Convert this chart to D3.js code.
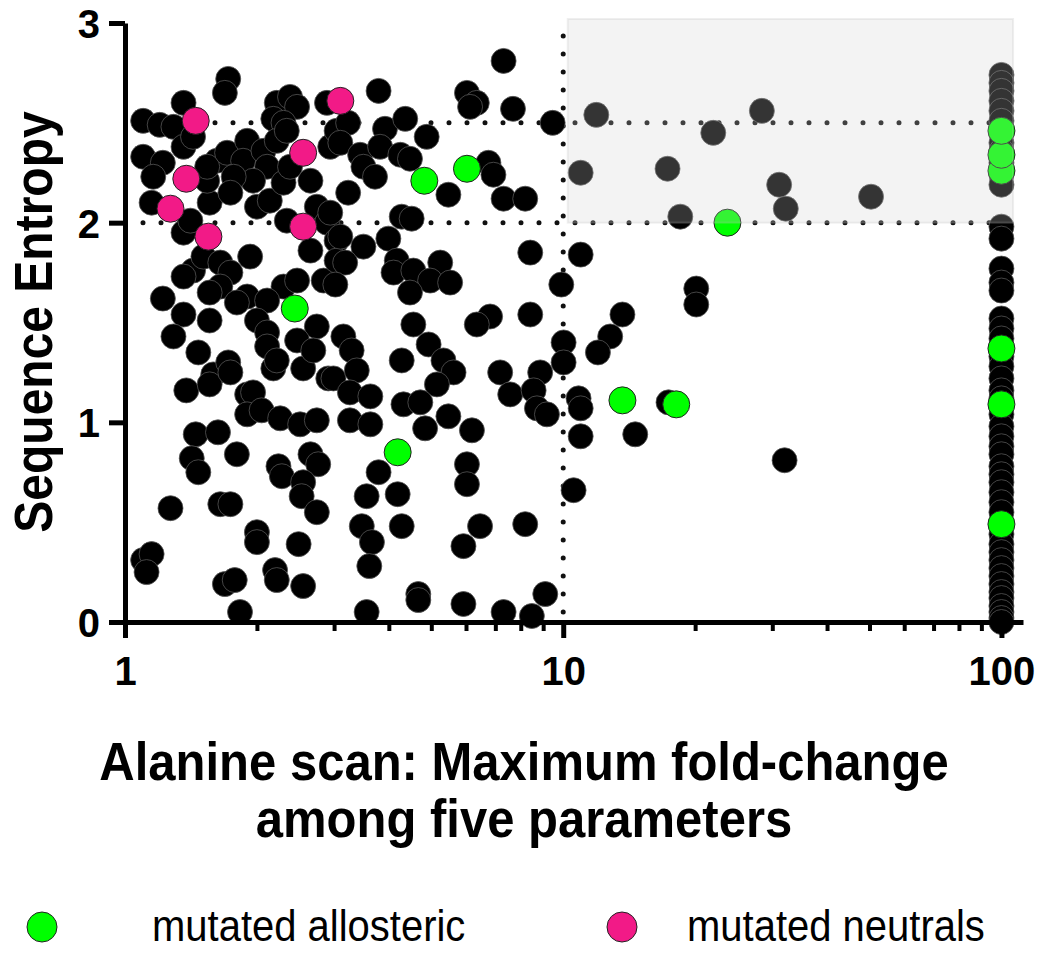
<!DOCTYPE html>
<html>
<head>
<meta charset="utf-8">
<script src="https://cdn.jsdelivr.net/npm/d3@7"></script>
<style>
  body { margin: 0; background: #fff; }
  svg text { font-family: "Liberation Sans", Arial, sans-serif; }
</style>
</head>
<body>
<svg id="chart" width="1050" height="957"></svg>
<script>
// [fold-change, sequence entropy] for the non-mutated residues
const otherPoints = [
  [1.10,2.51],[1.20,2.49],[1.29,2.48],[1.36,2.60],[1.72,2.72],[1.69,2.65],[2.22,2.60],[2.38,2.63],[2.47,2.58],
  [2.18,2.52],[2.30,2.50],[2.89,2.60],[1.10,2.33],[1.22,2.30],[1.16,2.23],[1.36,2.38],[1.43,2.43],[1.15,2.10],
  [1.36,1.95],[1.41,2.01],[1.56,2.10],[1.54,2.21],[1.62,2.31],[1.54,2.28],[1.71,2.35],[1.90,2.41],[1.86,2.31],
  [2.07,2.36],[2.11,2.28],[1.96,2.21],[1.77,2.23],[1.74,2.15],[2.00,2.08],[2.14,2.11],[2.30,2.20],[2.38,2.28],
  [2.22,2.41],[2.34,2.46],[2.65,2.21],[2.74,2.08],[2.94,2.38],[3.04,2.46],[2.34,2.01],[2.65,1.86],[2.89,2.00],
  [3.04,1.91],[1.43,1.76],[1.36,1.73],[1.51,1.83],[1.65,1.80],[1.74,1.75],[1.65,1.68],[1.56,1.65],[1.93,1.83],
  [1.90,1.63],[1.80,1.60],[1.22,1.62],[1.36,1.54],[1.56,1.51],[1.29,1.43],[2.30,1.68],[2.11,1.61],[2.00,1.51],
  [2.11,1.45],[2.47,1.71],[2.74,1.48],[2.84,1.71],[3.04,1.81],
  [7.31,2.81],[3.79,2.66],[6.03,2.65],[6.35,2.60],[6.13,2.58],[7.68,2.57],[9.46,2.50],[3.23,2.50],[3.10,2.40],
  [3.92,2.47],[4.36,2.52],[4.88,2.43],[3.44,2.34],[3.82,2.38],[3.50,2.28],[3.72,2.23],[4.25,2.34],[4.47,2.32],
  [6.75,2.30],[6.93,2.24],[5.47,2.14],[3.23,2.15],[7.31,2.12],[8.19,2.12],[4.28,2.03],[4.51,2.02],[2.94,2.05],
  [8.41,1.85],[3.10,1.93],[3.50,1.88],[3.18,1.80],[3.99,1.92],[4.17,1.81],[4.10,1.75],[4.55,1.76],[5.24,1.80],
  [4.97,1.71],[4.47,1.65],[5.52,1.70],[3.02,1.69],[9.90,1.69],[8.41,1.54],[6.81,1.53],[6.35,1.49],[4.55,1.49],
  [3.15,1.43],[10.02,1.40],
  [1.47,1.35],[1.38,1.16],[1.59,1.24],[1.56,1.19],[1.72,1.30],[1.74,1.25],[1.90,1.14],[1.96,1.15],[1.90,1.04],
  [2.05,1.06],[2.26,1.02],[2.51,0.99],[2.74,1.01],[2.11,1.38],[2.18,1.27],[2.22,1.31],[2.55,1.27],[2.47,1.41],
  [2.91,1.22],[2.69,1.36],[1.45,0.94],[1.63,0.95],[1.42,0.82],[1.47,0.75],[1.80,0.84],[2.24,0.78],[2.28,0.73],
  [2.65,0.84],[2.76,0.79],[2.55,0.70],[2.53,0.63],[2.74,0.55],[1.27,0.57],[1.65,0.59],[1.74,0.59],[2.00,0.45],
  [2.00,0.40],[2.49,0.39],[1.10,0.31],[1.15,0.34],[1.12,0.25],[1.69,0.19],[1.78,0.21],[2.20,0.26],[2.22,0.21],
  [2.55,0.18],[1.83,0.05],
  [3.29,1.36],[2.99,1.22],[3.38,1.26],[3.26,1.15],[3.63,1.13],[3.26,1.01],[3.63,0.99],[4.28,1.31],[4.93,1.39],
  [5.33,1.31],[5.62,1.25],[5.15,1.19],[4.32,1.09],[4.72,1.10],[5.47,1.03],[4.84,0.97],[6.19,0.96],[7.18,1.25],
  [7.57,1.14],[8.86,1.25],[8.56,1.16],[8.71,1.07],[9.18,1.04],[10.02,1.30],[3.79,0.75],[3.56,0.63],[4.19,0.64],
  [6.03,0.79],[6.03,0.69],[3.47,0.48],[3.66,0.40],[4.28,0.48],[6.46,0.48],[5.92,0.38],[8.19,0.49],[3.61,0.28],
  [4.67,0.14],[4.67,0.11],[5.92,0.09],[3.56,0.05],[7.31,0.05],[8.48,0.03],[9.10,0.14],
  [10.84,1.12],[10.96,1.07],[10.96,0.93],[10.56,0.66],[13.65,1.54],[12.80,1.43],[12.00,1.35],[14.60,0.94],
  [17.39,1.10],[32.0,0.81],[20.12,1.67],[20.12,1.59],[10.96,1.84],
  [11.9,2.54],[28.4,2.56],[22.0,2.45],[17.3,2.27],[31.1,2.19],[32.2,2.07],[50.4,2.13],[18.5,2.03],[10.96,2.25]
];

// entropy of residues whose fold-change was capped at 100
const cappedEntropy = [
  2.74,2.70,2.66,2.61,2.56,2.51,2.45,2.40,2.36,2.30,2.24,2.19,1.98,1.92,1.77,1.70,1.66,
  1.52,1.47,1.42,1.33,1.28,1.22,1.16,1.12,1.04,0.98,0.93,0.88,0.84,0.78,0.74,0.70,0.65,0.60,0.55,
  0.44,0.39,0.35,0.31,0.27,0.23,0.19,0.15,0.12,0.08,0.05,0.02,0.00
];
const cappedFold = 100;

const allosteric = [
  [2.44,1.57],[4.82,2.21],[6.03,2.27],[4.19,0.85],[13.65,1.11],[18.11,1.09],[23.7,2.00],
  [100,2.26],[100,2.34],[100,2.46],[100,1.37],[100,1.09],[100,0.49]
];
const neutrals = [
  [1.45,2.51],[3.10,2.61],[1.38,2.22],[1.27,2.07],[1.55,1.93],[2.55,2.35],[2.55,1.98]
];

const xTicks = [1, 10, 100];
const xMinor = [2,3,4,5,6,7,8,9,20,30,40,50,60,70,80,90];
const yTicks = [0, 1, 2, 3];
const hLines = [2, 2.5];
const vLine = 10;
const shade = { x0: 10.24, x1: 106.3, y0: 2, y1: 3.02 };

const xTitle = ["Alanine scan: Maximum fold-change", "among five parameters"];
const yTitle = "Sequence Entropy";
const legendItems = [
  { label: "mutated allosteric", color: "#00ff00" },
  { label: "mutated neutrals", color: "#f21a87" }
];

const svg = d3.select("#chart");

const x = d3.scaleLog().domain([1, 112]).range([125, 1023]);
const y = d3.scaleLinear().domain([0, 3]).range([622, 23]);

// the original figure's lettering is a bit taller than plain Arial
const stretch = 1.1;

// dotted reference lines
const ref = svg.append("g")
  .attr("stroke", "#111")
  .attr("stroke-width", 5)
  .attr("stroke-linecap", "round")
  .attr("stroke-dasharray", "0 18");

ref.selectAll("line.h")
  .data(hLines)
  .enter()
  .append("line")
  .attr("x1", x(1) + 18)
  .attr("x2", x(112) - 2)
  .attr("y1", d => y(d))
  .attr("y2", d => y(d));

ref.append("line")
  .attr("x1", x(vLine))
  .attr("x2", x(vLine))
  .attr("y1", y(0) - 10)
  .attr("y2", y(3));

// points
const r = 12.5;
svg.append("g")
  .selectAll("circle")
  .data(otherPoints)
  .enter()
  .append("circle")
  .attr("cx", d => x(d[0]))
  .attr("cy", d => y(d[1]))
  .attr("r", r)
  .attr("fill", "#000")
  .attr("stroke", "#555")
  .attr("stroke-width", 0.8);

svg.append("g")
  .selectAll("circle")
  .data(cappedEntropy)
  .enter()
  .append("circle")
  .attr("cx", x(cappedFold))
  .attr("cy", d => y(d))
  .attr("r", r)
  .attr("fill", "#000")
  .attr("stroke", "#555")
  .attr("stroke-width", 0.8);

function colored(data, color) {
  svg.append("g")
    .selectAll("circle")
    .data(data)
    .enter()
    .append("circle")
    .attr("cx", d => x(d[0]))
    .attr("cy", d => y(d[1]))
    .attr("r", 13.5)
    .attr("fill", color)
    .attr("stroke", "#222")
    .attr("stroke-width", 1);
}
colored(neutrals, legendItems[1].color);
colored(allosteric, legendItems[0].color);

// translucent gray box over the upper right quadrant
svg.append("rect")
  .attr("x", x(shade.x0))
  .attr("y", y(shade.y1))
  .attr("width", x(shade.x1) - x(shade.x0))
  .attr("height", y(shade.y0) - y(shade.y1))
  .attr("fill", "rgb(206,206,206)")
  .attr("fill-opacity", 0.25)
  .attr("stroke", "rgb(190,190,190)")
  .attr("stroke-opacity", 0.25)
  .attr("stroke-width", 2);

// axes
const yAxis = svg.append("g")
  .attr("transform", "translate(125,0)")
  .call(d3.axisLeft(y).tickValues(yTicks).tickFormat(d3.format("d")).tickSize(16).tickSizeOuter(0).tickPadding(9));

const xAxis = svg.append("g")
  .attr("transform", "translate(0,622)")
  .call(d3.axisBottom(x).tickValues(xTicks).tickFormat(d3.format("d")).tickSize(16).tickSizeOuter(0).tickPadding(19));

const xMinorAxis = svg.append("g")
  .attr("transform", "translate(0,622)")
  .call(d3.axisBottom(x).tickValues(xMinor).tickFormat("").tickSize(9).tickSizeOuter(0));
xMinorAxis.select(".domain").remove();
xMinorAxis.selectAll("line").attr("stroke-width", 4);

[yAxis, xAxis].forEach(g => {
  g.select(".domain").attr("stroke-width", 5);
  g.selectAll(".tick line").attr("stroke-width", 5);
  g.selectAll(".tick text")
    .attr("font-size", 40)
    .attr("font-weight", "bold")
    .attr("fill", "#000")
    .style("font-family", "'Liberation Sans', Arial, sans-serif");
});
yAxis.selectAll(".tick text").attr("dy", "0.36em");

// axis titles
svg.append("text")
  .attr("transform", `translate(52,322) rotate(-90) scale(1,${stretch})`)
  .attr("text-anchor", "middle")
  .attr("font-size", 48)
  .attr("font-weight", "bold")
  .text(yTitle);

svg.selectAll("text.xtitle")
  .data(xTitle)
  .enter()
  .append("text")
  .attr("class", "xtitle")
  .attr("transform", (d, i) => `translate(524,${780 + i * 57}) scale(1,${stretch})`)
  .attr("text-anchor", "middle")
  .attr("font-size", 49)
  .attr("font-weight", "bold")
  .text(d => d);

// legend
const legend = svg.selectAll("g.legend")
  .data(legendItems)
  .enter()
  .append("g")
  .attr("class", "legend")
  .attr("transform", (d, i) => `translate(${i === 0 ? 42 : 622},927)`);

legend.append("circle")
  .attr("r", 15)
  .attr("fill", d => d.color)
  .attr("stroke", "#222")
  .attr("stroke-width", 1);

legend.append("text")
  .attr("transform", (d, i) => `translate(${i === 0 ? 110 : 65},14) scale(1,${stretch})`)
  .attr("font-size", 40)
  .text(d => d.label);
</script>
</body>
</html>
